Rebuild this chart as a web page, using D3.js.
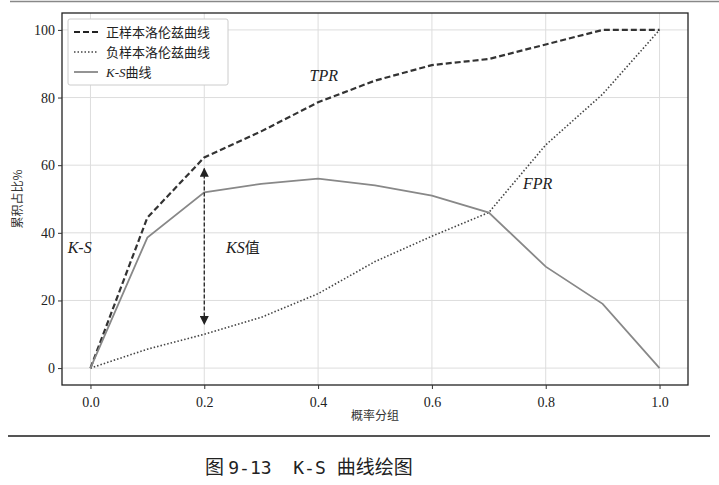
<!DOCTYPE html>
<html><head><meta charset="utf-8">
<script src="https://cdn.jsdelivr.net/npm/d3@7"></script>
<style>body{margin:0;background:#fff}</style>
</head><body><svg id="c" width="719" height="485"></svg>
<script>
const xs = [0, 0.1, 0.2, 0.3, 0.4, 0.5, 0.6, 0.7, 0.8, 0.9, 1.0];
const tpr = [0, 44.5, 62.3, 70, 78.6, 85, 89.6, 91.4, 95.7, 100, 100];
const fpr = [0, 5.6, 10, 15, 22, 31.5, 39, 46, 66, 81, 100];
const ks = [0, 38.6, 52, 54.5, 56, 54, 51, 46, 30, 19, 0];
const xTicks = [0, 0.2, 0.4, 0.6, 0.8, 1.0];
const yTicks = [0, 20, 40, 60, 80, 100];
const legendNames = ['正样本洛伦兹曲线', '负样本洛伦兹曲线', 'K-S曲线'];

const svg = d3.select('#c');
const serif = '"Liberation Serif","DejaVu Serif",serif';
const cjk = '"Noto Sans CJK SC",sans-serif';

// frame
const L = 62, R = 688, T = 13, B = 385;
const x = d3.scaleLinear().domain([-0.05, 1.05]).range([L, R]);
const y = d3.scaleLinear().domain([-5, 105]).range([B, T]);

svg.append('line').attr('x1', 10).attr('x2', 719).attr('y1', 1.5).attr('y2', 1.5).attr('stroke', '#888').attr('stroke-width', 1.5);
svg.append('line').attr('x1', 8).attr('x2', 710).attr('y1', 436).attr('y2', 436).attr('stroke', '#555').attr('stroke-width', 2);

// grid
svg.append('g').selectAll('line').data(xTicks).join('line')
  .attr('x1', d => x(d)).attr('x2', d => x(d)).attr('y1', T).attr('y2', B)
  .attr('stroke', '#ddd');
svg.append('g').selectAll('line').data(yTicks).join('line')
  .attr('y1', d => y(d)).attr('y2', d => y(d)).attr('x1', L).attr('x2', R)
  .attr('stroke', '#ddd');

svg.append('rect').attr('x', L).attr('y', T).attr('width', R - L).attr('height', B - T)
  .attr('fill', 'none').attr('stroke', '#222').attr('stroke-width', 1.3);

// axes
const xa = svg.append('g').attr('transform', `translate(0,${B})`)
  .call(d3.axisBottom(x).tickValues(xTicks).tickFormat(d3.format('.1f')).tickSize(4));
const ya = svg.append('g').attr('transform', `translate(${L},0)`)
  .call(d3.axisLeft(y).tickValues(yTicks).tickSize(4));
[xa, ya].forEach(a => {
  a.select('.domain').remove();
  a.selectAll('text').attr('font-family', serif).attr('font-size', 14).attr('fill', '#222');
  a.selectAll('line').attr('stroke', '#333');
});
xa.selectAll('text').attr('dy', '1.1em');

svg.append('text').attr('x', (L + R) / 2).attr('y', 420).attr('text-anchor', 'middle')
  .attr('font-family', cjk).attr('font-size', 12).attr('fill', '#333').text('概率分组');
svg.append('text').attr('transform', `translate(22,${(T + B) / 2}) rotate(-90)`).attr('text-anchor', 'middle')
  .attr('font-family', cjk).attr('font-size', 12).attr('fill', '#333').text('累积占比%');

// lines
const line = d3.line().x((d, i) => x(xs[i])).y(d => y(d));
svg.append('path').attr('d', line(tpr)).attr('fill', 'none').attr('stroke', '#333')
  .attr('stroke-width', 2.2).attr('stroke-dasharray', '6,3');
svg.append('path').attr('d', line(fpr)).attr('fill', 'none').attr('stroke', '#444')
  .attr('stroke-width', 1.6).attr('stroke-dasharray', '1.5,2');
svg.append('path').attr('d', line(ks)).attr('fill', 'none').attr('stroke', '#888')
  .attr('stroke-width', 1.8);

// KS arrow
const ax = x(0.2);
svg.append('defs').html('<marker id="ah" viewBox="0 0 10 10" refX="9" refY="5" markerWidth="7" markerHeight="7" orient="auto-start-reverse"><path d="M0,0L10,5L0,10z" fill="#222"/></marker>');
svg.append('line').attr('x1', ax).attr('x2', ax).attr('y1', y(59)).attr('y2', y(13))
  .attr('stroke', '#222').attr('stroke-width', 1.3).attr('stroke-dasharray', '4,2')
  .attr('marker-start', 'url(#ah)').attr('marker-end', 'url(#ah)');

// annotations
const ann = [[x(0.41), y(85), 'TPR'], [x(0.76), y(53), 'FPR'], [x(-0.04), y(34), 'K-S']];
ann.forEach(a => svg.append('text').attr('x', a[0]).attr('y', a[1]).attr('font-family', serif)
  .attr('font-style', 'italic').attr('font-size', 16).attr('fill', '#222')
  .attr('text-anchor', a[2] === 'TPR' ? 'middle' : 'start').text(a[2]));
const kt = svg.append('text').attr('x', x(0.21) + 16).attr('y', y(34)).attr('font-size', 16).attr('fill', '#222');
kt.append('tspan').attr('font-family', serif).attr('font-style', 'italic').text('KS');
kt.append('tspan').attr('font-family', cjk).attr('font-size', 15).text('值');

// legend
svg.append('rect').attr('x', 68).attr('y', 19).attr('width', 160).attr('height', 66)
  .attr('fill', '#fff').attr('stroke', '#ccc').attr('rx', 2);
const styles = [['6,3', '#222', 2.2], ['1.5,2', '#444', 1.6], [null, '#888', 1.8]];
legendNames.forEach((n, i) => {
  const yy = 32 + i * 20;
  svg.append('line').attr('x1', 74).attr('x2', 98).attr('y1', yy).attr('y2', yy)
    .attr('stroke', styles[i][1]).attr('stroke-width', styles[i][2])
    .attr('stroke-dasharray', styles[i][0]);
  const t = svg.append('text').attr('x', 106).attr('y', yy + 5).attr('font-size', 13).attr('fill', '#222');
  if (i === 2) {
    t.append('tspan').attr('font-family', serif).attr('font-style', 'italic').text('K-S');
    t.append('tspan').attr('font-family', cjk).text('曲线');
  } else t.attr('font-family', cjk).text(n);
});

// caption
const cap = svg.append('text').attr('x', 205).attr('y', 474).attr('font-size', 19)
  .attr('fill', '#222').attr('xml:space', 'preserve');
cap.append('tspan').attr('font-family', cjk).text('图 ');
cap.append('tspan').attr('font-family', '"DejaVu Sans Mono",monospace').attr('font-size', 18).text('9-13  K-S ');
cap.append('tspan').attr('font-family', cjk).text('曲线绘图');
</script></body></html>
